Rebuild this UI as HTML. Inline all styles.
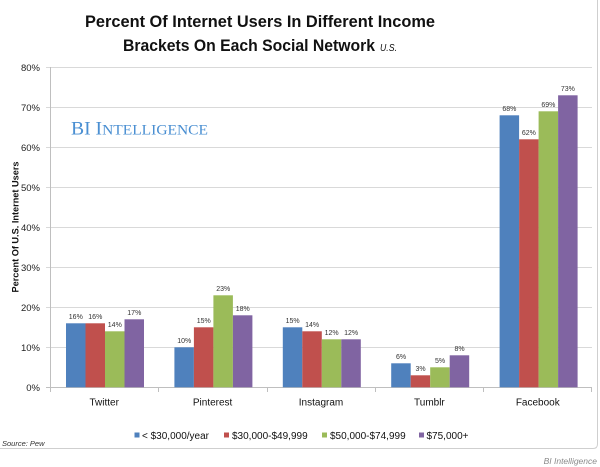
<!DOCTYPE html>
<html><head><meta charset="utf-8"><style>
html,body{margin:0;padding:0;background:#fff;}
svg{display:block;}
text{font-family:"Liberation Sans",Arial,sans-serif;}
text.serif{font-family:"Liberation Serif","DejaVu Serif",serif;}
</style></head><body>
<svg width="600" height="467" viewBox="0 0 600 467" xmlns="http://www.w3.org/2000/svg">
<rect width="600" height="467" fill="#fff"/>
<!-- frame -->
<path d="M0 448.5 H593 Q597.5 448.5 597.5 444 V0" fill="none" stroke="#cfcfcf" stroke-width="1"/>
<!-- title -->
<text x="85" y="27" font-size="17" font-weight="bold" fill="#111" textLength="350" lengthAdjust="spacingAndGlyphs">Percent Of Internet Users In Different Income</text>
<text x="123" y="51" font-size="17" font-weight="bold" fill="#111" textLength="252" lengthAdjust="spacingAndGlyphs">Brackets On Each Social Network</text>
<text x="380" y="51" font-size="10.5" font-style="italic" fill="#111" textLength="17" lengthAdjust="spacingAndGlyphs">U.S.</text>
<!-- gridlines -->
<g stroke="#d9d9d9" stroke-width="1">
<line x1="46" y1="67.5" x2="592" y2="67.5"/>
<line x1="46" y1="107.5" x2="592" y2="107.5"/>
<line x1="46" y1="147.5" x2="592" y2="147.5"/>
<line x1="46" y1="187.5" x2="592" y2="187.5"/>
<line x1="46" y1="227.5" x2="592" y2="227.5"/>
<line x1="46" y1="267.5" x2="592" y2="267.5"/>
<line x1="46" y1="307.5" x2="592" y2="307.5"/>
<line x1="46" y1="347.5" x2="592" y2="347.5"/>
</g>
<!-- axes -->
<g stroke="#bfbfbf" stroke-width="1">
<line x1="50.5" y1="67" x2="50.5" y2="387.5"/>
<line x1="46" y1="387.5" x2="592" y2="387.5"/>
<line x1="50.5" y1="387.5" x2="50.5" y2="392"/>
<line x1="158.5" y1="387.5" x2="158.5" y2="392"/>
<line x1="267.5" y1="387.5" x2="267.5" y2="392"/>
<line x1="375.5" y1="387.5" x2="375.5" y2="392"/>
<line x1="483.5" y1="387.5" x2="483.5" y2="392"/>
<line x1="591.5" y1="387.5" x2="591.5" y2="392"/>
</g>
<!-- y tick labels -->
<g font-size="9.5" fill="#222" text-anchor="end">
<text x="40" y="71">80%</text>
<text x="40" y="111">70%</text>
<text x="40" y="151">60%</text>
<text x="40" y="191">50%</text>
<text x="40" y="231">40%</text>
<text x="40" y="271">30%</text>
<text x="40" y="311">20%</text>
<text x="40" y="351">10%</text>
<text x="40" y="391">0%</text>
</g>
<text transform="translate(18.5,227) rotate(-90)" font-size="9" font-weight="bold" fill="#111" text-anchor="middle" textLength="131" lengthAdjust="spacingAndGlyphs">Percent Of U.S. Internet Users</text>
<!-- watermark -->
<text class="serif" x="71" y="134.5" fill="#4a8fd2" textLength="137" lengthAdjust="spacingAndGlyphs"><tspan font-size="19">BI I</tspan><tspan font-size="15">NTELLIGENCE</tspan></text>
<!-- bars -->
<g id="bars">
<rect x="66" y="323.3" width="19.5" height="64" fill="#4f81bd"/>
<rect x="85.5" y="323.3" width="19.5" height="64" fill="#c0504d"/>
<rect x="105" y="331.3" width="19.5" height="56" fill="#9bbb59"/>
<rect x="124.5" y="319.3" width="19.5" height="68" fill="#8064a2"/>
<rect x="174.4" y="347.3" width="19.5" height="40" fill="#4f81bd"/>
<rect x="193.9" y="327.3" width="19.5" height="60" fill="#c0504d"/>
<rect x="213.4" y="295.3" width="19.5" height="92" fill="#9bbb59"/>
<rect x="232.9" y="315.3" width="19.5" height="72" fill="#8064a2"/>
<rect x="282.8" y="327.3" width="19.5" height="60" fill="#4f81bd"/>
<rect x="302.3" y="331.3" width="19.5" height="56" fill="#c0504d"/>
<rect x="321.8" y="339.3" width="19.5" height="48" fill="#9bbb59"/>
<rect x="341.3" y="339.3" width="19.5" height="48" fill="#8064a2"/>
<rect x="391.2" y="363.3" width="19.5" height="24" fill="#4f81bd"/>
<rect x="410.7" y="375.3" width="19.5" height="12" fill="#c0504d"/>
<rect x="430.2" y="367.3" width="19.5" height="20" fill="#9bbb59"/>
<rect x="449.7" y="355.3" width="19.5" height="32" fill="#8064a2"/>
<rect x="499.6" y="115.3" width="19.5" height="272" fill="#4f81bd"/>
<rect x="519.1" y="139.3" width="19.5" height="248" fill="#c0504d"/>
<rect x="538.6" y="111.3" width="19.5" height="276" fill="#9bbb59"/>
<rect x="558.1" y="95.3" width="19.5" height="292" fill="#8064a2"/>
</g>
<!-- data labels -->
<g font-size="7" fill="#333" text-anchor="middle">
<text x="75.8" y="319">16%</text>
<text x="95.3" y="319">16%</text>
<text x="114.8" y="327">14%</text>
<text x="134.3" y="315">17%</text>
<text x="184.2" y="343">10%</text>
<text x="203.7" y="323">15%</text>
<text x="223.2" y="291">23%</text>
<text x="242.7" y="311">18%</text>
<text x="292.6" y="323">15%</text>
<text x="312.1" y="327">14%</text>
<text x="331.6" y="335">12%</text>
<text x="351.1" y="335">12%</text>
<text x="401" y="359">6%</text>
<text x="420.5" y="371">3%</text>
<text x="440" y="363">5%</text>
<text x="459.5" y="351">8%</text>
<text x="509.4" y="111">68%</text>
<text x="528.9" y="135">62%</text>
<text x="548.4" y="107">69%</text>
<text x="567.9" y="91">73%</text>
</g>
<!-- category labels -->
<g font-size="10" fill="#111" text-anchor="middle">
<text x="104.2" y="405.5">Twitter</text>
<text x="212.6" y="405.5">Pinterest</text>
<text x="321" y="405.5">Instagram</text>
<text x="429.4" y="405.5">Tumblr</text>
<text x="537.8" y="405.5">Facebook</text>
</g>
<!-- legend -->
<rect x="134.5" y="432.5" width="5" height="5" fill="#4f81bd"/>
<text x="142" y="439" font-size="10" fill="#111">&lt; $30,000/year</text>
<rect x="224" y="432.5" width="5" height="5" fill="#c0504d"/>
<text x="232" y="439" font-size="10" fill="#111">$30,000-$49,999</text>
<rect x="322" y="432.5" width="5" height="5" fill="#9bbb59"/>
<text x="330" y="439" font-size="10" fill="#111">$50,000-$74,999</text>
<rect x="419" y="432.5" width="5" height="5" fill="#8064a2"/>
<text x="426.5" y="439" font-size="10" fill="#111">$75,000+</text>
<!-- source -->
<text x="2" y="446" font-size="7.5" font-style="italic" fill="#333">Source: Pew</text>
<text x="597" y="464" font-size="8.5" font-style="italic" fill="#8a8a8a" text-anchor="end">BI Intelligence</text>
</svg>
</body></html>
